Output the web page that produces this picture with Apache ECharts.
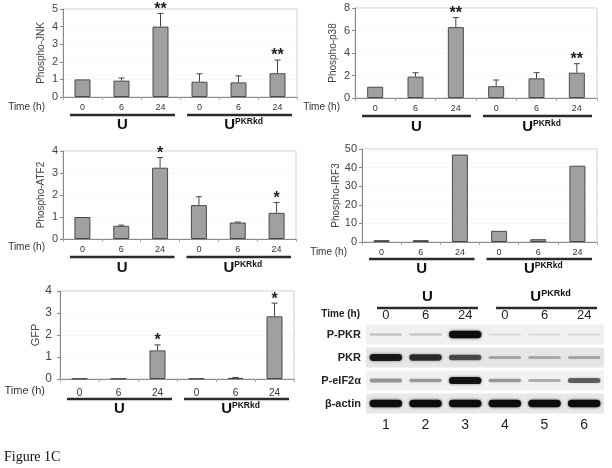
<!DOCTYPE html>
<html><head><meta charset="utf-8">
<script src="https://cdn.jsdelivr.net/npm/echarts@6/dist/echarts.min.js"></script>
<style>html,body{margin:0;padding:0;background:#fff}#c{width:612px;height:468px}</style>
</head><body><div id="c"></div>
<script>
// ---------- data ----------
const timeLabels = ['0', '6', '24', '0', '6', '24'];
const groupSpans = [[0, 2], [3, 5]];
const groupNames = ['U', 'UPKRkd'];

const jnkVals = [1.0, 0.93, 4.0, 0.87, 0.83, 1.35];
const jnkErr = [0, 0.15, 0.75, 0.45, 0.37, 0.75];
const jnkStars = ['', '', '**', '', '', '**'];

const p38Vals = [1.0, 1.9, 6.3, 1.05, 1.75, 2.25];
const p38Err = [0, 0.35, 0.85, 0.55, 0.5, 0.8];
const p38Stars = ['', '', '**', '', '', '**'];

const atf2Vals = [1.0, 0.6, 3.24, 1.54, 0.75, 1.19];
const atf2Err = [0, 0.03, 0.46, 0.38, 0.02, 0.47];
const atf2Stars = ['', '', '*', '', '', '*'];

const irf3Vals = [1, 1, 47, 6, 1.5, 41];
const irf3Err = [0, 0, 0, 0, 0, 0];
const irf3Stars = ['', '', '', '', '', ''];

const gfpVals = [0.02, 0.02, 1.3, 0.02, 0.05, 2.85];
const gfpErr = [0, 0, 0.25, 0, 0.02, 0.6];
const gfpStars = ['', '', '*', '', '', '*'];

const blotRows = ['P-PKR', 'PKR', 'P-eIF2\u03b1', '\u03b2-actin'];
const laneNumbers = ['1', '2', '3', '4', '5', '6'];
const pPkrBands = [0.12, 0.1, 1.0, 0.02, 0.02, 0.02];
const pkrBands = [0.9, 0.78, 0.62, 0.22, 0.2, 0.22];
const pEif2aBands = [0.32, 0.3, 0.95, 0.3, 0.22, 0.55];
const actinBands = [1, 1, 1, 1, 1, 1];

// ---------- layout ----------
const FONT = 'Liberation Sans, Arial, sans-serif';
const panels = [
  {name: 'Phospho-JNK', vals: jnkVals, err: jnkErr, stars: jnkStars, max: 5, interval: 1,
   grid: {left: 63, top: 9, width: 234, height: 88}, nameGap: 17, fs: 10, lm: 5, lineOff: 18, labOff: 28},
  {name: 'Phospho-p38', vals: p38Vals, err: p38Err, stars: p38Stars, max: 8, interval: 2,
   grid: {left: 355, top: 8, width: 242, height: 90}, nameGap: 17, fs: 10, lm: 5, lineOff: 18, labOff: 29},
  {name: 'Phospho-ATF2', vals: atf2Vals, err: atf2Err, stars: atf2Stars, max: 4, interval: 1,
   grid: {left: 63, top: 151, width: 233, height: 88}, nameGap: 17, fs: 10, lm: 5, lineOff: 18, labOff: 29},
  {name: 'Phospho-IRF3', vals: irf3Vals, err: irf3Err, stars: irf3Stars, max: 50, interval: 10,
   grid: {left: 362, top: 149, width: 235, height: 93}, nameGap: 21, fs: 10, lm: 5, lineOff: 17, labOff: 27},
  {name: 'GFP', vals: gfpVals, err: gfpErr, stars: gfpStars, max: 4, interval: 1,
   grid: {left: 60, top: 291, width: 234, height: 88}, nameGap: 13, fs: 11, lm: 8, lineOff: 20, labOff: 30}
];
const timeTextPos = [[45, 107], [340, 107], [45, 247], [347, 252], [45, 391]];

const grids = [], xAxes = [], yAxes = [], series = [];

function groupRenderer(p, blot) {
  return function (params, api) {
    const a = api.value(0), b = api.value(1);
    const s = api.coord([a, 0]), e = api.coord([b, 0]);
    const bw = api.size([1, 0])[0];
    let y0 = s[1];
    let lineY, labY;
    if (blot) {
      const rh = api.size([0, 1])[1];
      y0 = s[1] - rh / 2;
      lineY = y0 - 15; labY = y0 - 26;
    } else {
      lineY = y0 + p.lineOff; labY = y0 + p.labOff;
    }
    const x1 = s[0] - bw / 2 + (blot ? 11 : 7), x2 = e[0] + bw / 2 - (blot ? 7 : 5);
    const nm = groupNames[params.dataIndex];
    const txt = nm === 'U' ? '{u|U}' : '{u|U}{s|PKRkd}';
    return {type: 'group', children: [
      {type: 'line', shape: {x1: x1, y1: lineY, x2: x2, y2: lineY}, style: {stroke: '#2a2a2a', lineWidth: 2.5}},
      {type: 'text', x: (x1 + x2) / 2 + (nm === 'U' ? 0 : 4), y: labY,
       style: {text: txt, align: 'center', verticalAlign: 'middle',
         rich: {u: {fontSize: blot ? 15 : 15, fontWeight: 'bold', fontFamily: FONT, fill: '#111'},
                s: {fontSize: blot ? 9 : 8.5, fontWeight: 'bold', fontFamily: FONT, fill: '#111', padding: [0, 0, 7, 0]}}}}
    ]};
  };
}

panels.forEach((p, i) => {
  grids.push(Object.assign({show: true, borderColor: '#cfcfcf', borderWidth: 1, backgroundColor: 'transparent'}, p.grid));
  xAxes.push({type: 'category', gridIndex: i, data: timeLabels,
    axisLine: {lineStyle: {color: '#8a8a8a', width: 1}},
    axisTick: {show: true, length: 3, lineStyle: {color: '#aaa'}},
    axisLabel: {fontSize: p.fs - 1, color: '#333', fontFamily: FONT, margin: p.fs > 10 ? 9 : 6}});
  yAxes.push({type: 'value', gridIndex: i, min: 0, max: p.max, interval: p.interval,
    name: p.name, nameLocation: 'middle', nameGap: p.nameGap,
    nameTextStyle: {fontSize: p.fs, color: '#444', fontFamily: FONT},
    axisLine: {show: true, lineStyle: {color: '#8a8a8a', width: 1}},
    axisTick: {show: true, length: 3, lineStyle: {color: '#8a8a8a'}},
    splitLine: {show: true, lineStyle: {color: '#f0f0f0', type: 'dotted'}},
    axisLabel: {fontSize: p.fs + 1, color: '#444', fontFamily: FONT, margin: p.lm}});
  series.push({type: 'bar', xAxisIndex: i, yAxisIndex: i, data: p.vals, barWidth: 16,
    itemStyle: {color: '#a0a0a0', borderColor: '#4a4a4a', borderWidth: 1}, silent: true});
  series.push({type: 'custom', xAxisIndex: i, yAxisIndex: i, silent: true, clip: false,
    data: p.vals.map((v, k) => [k, v, p.err[k]]),
    renderItem: function (params, api) {
      const k = api.value(0), v = api.value(1), e = api.value(2);
      const base = api.coord([k, v]), top = api.coord([k, v + e]);
      const ch = [];
      if (e > 0) {
        ch.push({type: 'line', shape: {x1: base[0], y1: base[1], x2: top[0], y2: top[1]}, style: {stroke: '#444', lineWidth: 1}});
        ch.push({type: 'line', shape: {x1: top[0] - 3, y1: top[1], x2: top[0] + 3, y2: top[1]}, style: {stroke: '#444', lineWidth: 1}});
      }
      const st = p.stars[params.dataIndex];
      if (st) ch.push({type: 'text', x: top[0], y: top[1] + 2,
        style: {text: st, align: 'center', verticalAlign: 'bottom', fontSize: 16, fontWeight: 'bold', fontFamily: FONT, fill: '#222', lineHeight: 12}});
      return {type: 'group', children: ch};
    }});
  series.push({type: 'custom', xAxisIndex: i, yAxisIndex: i, silent: true, clip: false,
    data: groupSpans, renderItem: groupRenderer(p, false)});
});

// ---------- blot panel ----------
const bi = panels.length;
grids.push({left: 366, top: 323, width: 238, height: 92, show: false});
xAxes.push({type: 'category', gridIndex: bi, data: laneNumbers, position: 'bottom',
  axisLine: {show: false}, axisTick: {show: false},
  axisLabel: {fontSize: 14, color: '#222', fontFamily: FONT, margin: 3}});
xAxes.push({type: 'category', gridIndex: bi, data: timeLabels, position: 'top',
  axisLine: {show: false}, axisTick: {show: false},
  axisLabel: {fontSize: 13, color: '#222', fontFamily: FONT, margin: 1}});
yAxes.push({type: 'category', gridIndex: bi, data: blotRows, inverse: true,
  axisLine: {show: false}, axisTick: {show: false},
  axisLabel: {fontSize: 11, fontWeight: 'bold', color: '#222', fontFamily: FONT, margin: 5}});
const bx = xAxes.length - 2;
series.push({type: 'custom', xAxisIndex: bx, yAxisIndex: bi, silent: true, clip: false,
  data: blotRows.map((r, k) => [0, k]),
  renderItem: function (params, api) {
    const c = api.coord([0, api.value(1)]);
    const bw = api.size([1, 0])[0], rh = api.size([0, 1])[1];
    return {type: 'rect', shape: {x: c[0] - bw / 2, y: c[1] - rh * 0.43, width: bw * 6, height: rh * 0.86},
      style: {fill: ['#f0f0f0', '#e6e6e6', '#f1f1f1', '#e8e8e8'][params.dataIndex]}};
  }});
const bandSets = [pPkrBands, pkrBands, pEif2aBands, actinBands];
const bandData = [];
bandSets.forEach((arr, r) => arr.forEach((v, l) => bandData.push([l, r, v])));
series.push({type: 'custom', xAxisIndex: bx, yAxisIndex: bi, silent: true, clip: false,
  data: bandData,
  renderItem: function (params, api) {
    const c = api.coord([api.value(0), api.value(1)]);
    const inten = api.value(2);
    const bw = api.size([1, 0])[0];
    const w = bw * 0.82, h = 2 + 5.5 * inten;
    return {type: 'rect', shape: {x: c[0] - w / 2, y: c[1] - h / 2, width: w, height: h, r: h / 2},
      style: {fill: 'rgba(10,10,10,' + (0.08 + 0.9 * inten) + ')', shadowBlur: 3, shadowColor: 'rgba(0,0,0,' + (0.6 * inten) + ')'}};
  }});
series.push({type: 'custom', xAxisIndex: bx, yAxisIndex: bi, silent: true, clip: false,
  data: groupSpans, renderItem: groupRenderer({}, true)});

// ---------- texts ----------
const graphic = timeTextPos.map((pos, i) => ({type: 'text', x: pos[0], y: pos[1],
  style: {text: 'Time (h)', align: 'right', verticalAlign: 'middle', fontSize: i === 4 ? 11 : 10, fontFamily: FONT, fill: '#333'}}));
graphic.push({type: 'text', x: 360, y: 314, style: {text: 'Time (h)', align: 'right', verticalAlign: 'middle', fontSize: 10, fontWeight: 'bold', fontFamily: FONT, fill: '#222'}});
graphic.push({type: 'text', x: 4, y: 457, style: {text: 'Figure 1C', align: 'left', verticalAlign: 'middle', fontSize: 14, fontFamily: 'Liberation Serif, Times New Roman, serif', fill: '#111'}});

const chart = echarts.init(document.getElementById('c'), null, {renderer: 'canvas'});
chart.setOption({animation: false, backgroundColor: '#fff', grid: grids, xAxis: xAxes, yAxis: yAxes, series: series, graphic: graphic});
</script></body></html>
